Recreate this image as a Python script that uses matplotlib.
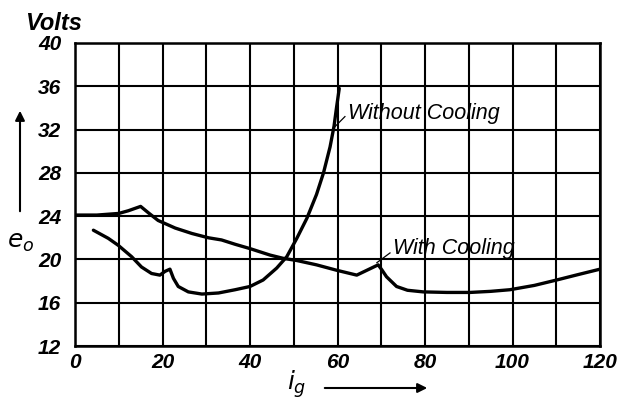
import matplotlib
matplotlib.use("Agg")
import matplotlib.pyplot as plt

# Data
with_x = [0, 5, 10, 12.2, 15, 16.8, 19, 22.9, 26.7, 30.5, 33.5, 36.6, 40, 44.6, 47.6,
          50.7, 55.2, 59.8, 64.4, 69.3, 70.2, 71.2, 73.5, 76, 79.6, 85, 90.3, 95,
          99.4, 105, 110.1, 115, 120]
with_v = [24.1, 24.1, 24.25, 24.5, 24.9, 24.3, 23.6, 22.9, 22.4, 22.0, 21.8, 21.4, 21.0,
          20.4, 20.1, 19.9, 19.5, 19.0, 18.55, 19.5, 19.0, 18.4, 17.5, 17.15, 17.0,
          16.95, 16.95, 17.05, 17.2, 17.6, 18.1, 18.6, 19.1]

without_x = [4.2, 7.6, 9.9, 12.95, 15.2, 17.5, 19.4, 20.6, 21.7, 22.5, 23.6, 25.9, 29,
             32.8, 36.6, 40, 43, 46.1, 48.4, 50.7, 53, 55.2, 56.8, 58.3, 59.2, 59.8, 60.4]
without_v = [22.7, 21.95, 21.3, 20.25, 19.3, 18.7, 18.55, 18.9, 19.1, 18.25, 17.5, 17.0,
             16.8, 16.9, 17.2, 17.5, 18.1, 19.2, 20.25, 21.95, 23.8, 26.0, 28.0, 30.4,
             32.3, 34.1, 35.8]

x_ticks = list(range(0, 121, 10))
x_labels = [str(v) if v % 20 == 0 else "" for v in x_ticks]
y_ticks = list(range(12, 41, 4))
y_labels = [str(v) for v in y_ticks]

font = "Liberation Sans"

fig = plt.figure(figsize=(6.18, 4.01), dpi=100)
ax = fig.add_axes([75 / 618, 1 - 346 / 401, 525 / 618, 303 / 401])

lw_curve = 2.4
for xs, vs in [(with_x, with_v), (without_x, without_v)]:
    ax.plot(xs, vs, color="black", lw=lw_curve, solid_capstyle="round",
            solid_joinstyle="round", zorder=3)

ax.set_xlim(0, 120)
ax.set_ylim(12, 40)
ax.set_xticks(x_ticks)
ax.set_xticklabels(x_labels, family=font, style="italic", fontsize=15, fontweight="bold")
ax.set_yticks(y_ticks)
ax.set_yticklabels(y_labels, family=font, style="italic", fontsize=15, fontweight="bold")
ax.tick_params(length=0, pad=5)
ax.tick_params(axis="y", pad=10)
ax.grid(True, color="black", lw=1.5)
for s in ax.spines.values():
    s.set_linewidth(1.8)

# curve labels with leader ticks
ax.plot([59, 61.7], [32.1, 33.2], color="black", lw=0.9)
ax.text(62.4, 33.5, "Without Cooling", family=font, style="italic", fontsize=15.5,
        ha="left", va="center", zorder=4)
ax.plot([69, 72], [19.7, 20.6], color="black", lw=0.9)
ax.text(72.7, 21.05, "With Cooling", family=font, style="italic", fontsize=15.5,
        ha="left", va="center", zorder=4)

# axis titles and arrows
fig.text(25 / 618, 1 - 23 / 401, "Volts", family=font, style="italic", fontsize=17,
         fontweight="bold", ha="left", va="center")
fig.text(7 / 618, 1 - 242 / 401, r"$e_o$", fontsize=18, ha="left", va="center")
fig.text(297 / 618, 1 - 384 / 401, r"$i_g$", fontsize=18, ha="center", va="center")
ax.annotate("", xy=(20 / 618, 1 - 108 / 401), xytext=(20 / 618, 1 - 214 / 401),
            xycoords="figure fraction", textcoords="figure fraction",
            arrowprops=dict(arrowstyle="-|>", color="black", lw=1.5,
                            mutation_scale=14))
ax.annotate("", xy=(430 / 618, 1 - 388 / 401), xytext=(322 / 618, 1 - 388 / 401),
            xycoords="figure fraction", textcoords="figure fraction",
            arrowprops=dict(arrowstyle="-|>", color="black", lw=1.5,
                            mutation_scale=14))

fig.savefig("out.png", dpi=100)
